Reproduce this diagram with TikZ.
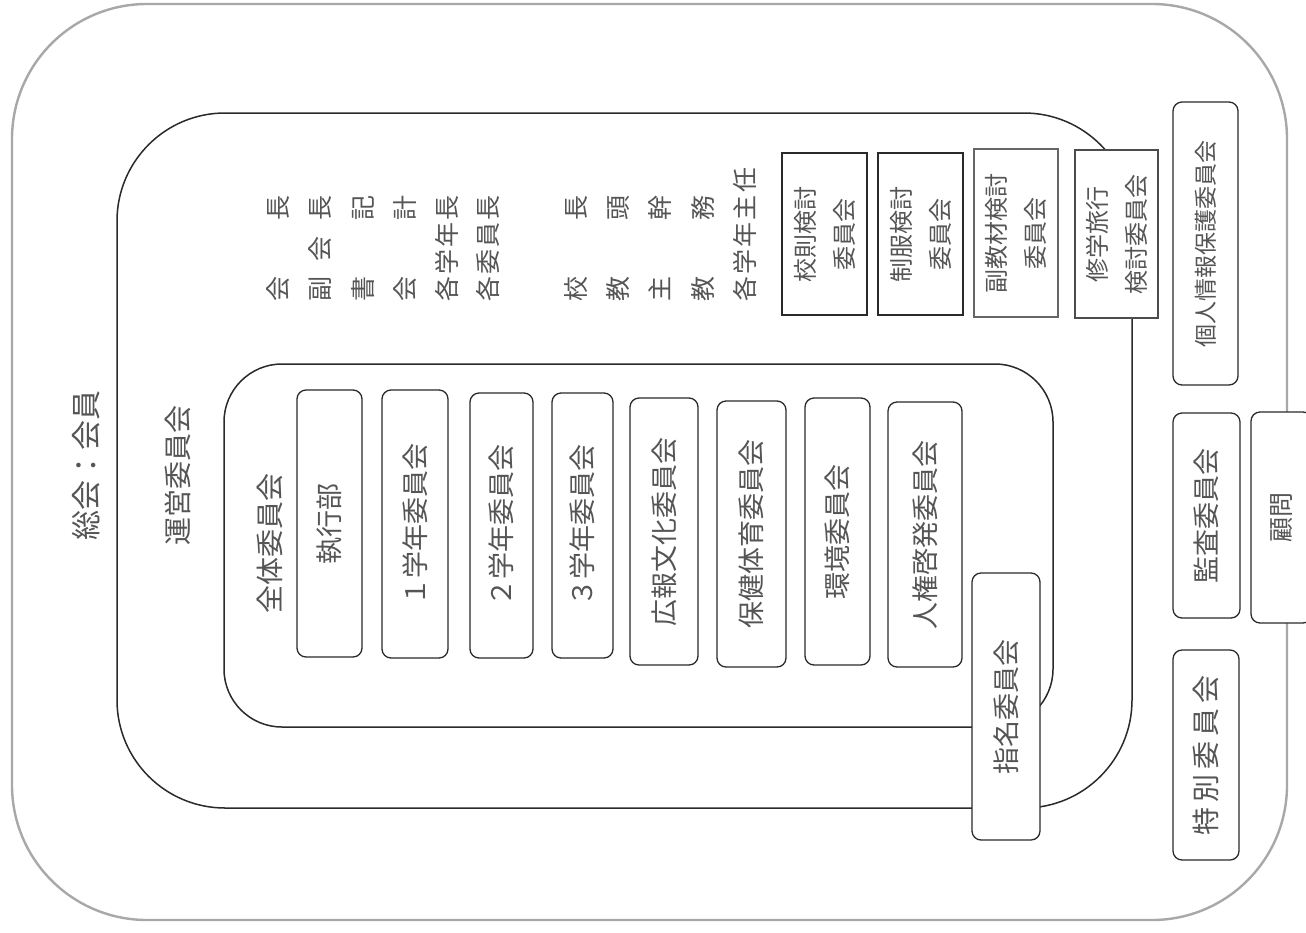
\documentclass[tikz,border=0pt]{standalone}
\usepackage{fontspec}
\setmainfont{Noto Sans CJK JP}
\definecolor{txtc}{HTML}{555555}
\definecolor{linec}{HTML}{2A2A2A}
\definecolor{outerc}{HTML}{A8A8A8}
\begin{document}
\begin{tikzpicture}[x=1pt,y=-1pt,
  sz/.style 2 args={minimum width=#1pt, minimum height=#2pt},
  rbox/.style={draw=linec, fill=white, rounded corners=9pt, line width=1.3pt, rotate=90, inner sep=0pt, text=txtc, font=\fontsize{27}{32}\selectfont},
  sbox/.style={draw=linec, fill=white, line width=1.5pt, rotate=90, inner sep=0pt, text=txtc, align=center, font=\fontsize{24}{39}\selectfont},
  ofc/.style={rotate=90, anchor=west, inner sep=0pt, text=txtc, font=\fontsize{25}{30}\selectfont},
  title/.style={rotate=90, inner sep=0pt, text=txtc, font=\fontsize{28}{34}\selectfont}
]
\useasboundingbox[fill=white] (0,0) rectangle (1306,932);

% containers
\draw[outerc, line width=2.4pt, rounded corners=135pt] (12,4) rectangle (1287,920);
\draw[linec, line width=1.5pt, rounded corners=108pt] (117,113) rectangle (1132,808);
\draw[linec, line width=1.5pt, rounded corners=58pt] (224,364) rectangle (1053,727);

% titles
\node[title, font=\fontsize{30}{36}\selectfont] (sokai) at (86,465) {総会：会員};
\node[title] (unei) at (178,475) {運営委員会};
\node[title] (zentai) at (270,543) {全体委員会};

% officers
\node[ofc] (o1) at (278,302) {\makebox[106pt][s]{会\hfill 長}};
\node[ofc] (o2) at (320,302) {\makebox[106pt][s]{副\hfill 会\hfill 長}};
\node[ofc] (o3) at (363,302) {\makebox[106pt][s]{書\hfill 記}};
\node[ofc] (o4) at (405,302) {\makebox[106pt][s]{会\hfill 計}};
\node[ofc] (o5) at (447,302) {\makebox[106pt][s]{各\hfill 学\hfill 年\hfill 長}};
\node[ofc] (o6) at (488,302) {\makebox[106pt][s]{各\hfill 委\hfill 員\hfill 長}};
\node[ofc] (o7) at (576,302) {\makebox[106pt][s]{校\hfill 長}};
\node[ofc] (o8) at (618,302) {\makebox[106pt][s]{教\hfill 頭}};
\node[ofc] (o9) at (660,302) {\makebox[106pt][s]{主\hfill 幹}};
\node[ofc] (o10) at (703,302) {\makebox[106pt][s]{教\hfill 務}};
\node[ofc] (o11) at (745,302) {\makebox[134pt][s]{各\hfill 学\hfill 年\hfill 主\hfill 任}};

% committees inside 全体委員会
\node[rbox, sz={267}{65}] (shikko) at (329.5,523.5) {執行部};
\node[rbox, sz={268}{66}] (g1) at (415,524) {１学年委員会};
\node[rbox, sz={265}{63}] (g2) at (501.5,525.5) {２学年委員会};
\node[rbox, sz={265}{61}] (g3) at (582.5,525.5) {３学年委員会};
\node[rbox, sz={267}{68}] (koho) at (664,531.5) {広報文化委員会};
\node[rbox, sz={266}{69}] (hoken) at (751.5,534) {保健体育委員会};
\node[rbox, sz={267}{65}] (kankyo) at (837.5,531.5) {環境委員会};
\node[rbox, sz={265}{74}] (jinken) at (925,534.5) {人権啓発委員会};
\node[rbox, sz={267}{68}] (shimei) at (1006,706.5) {指名委員会};

% study committees
\node[sbox, sz={162}{85}] (kosoku) at (824.5,234) {校則検討\\委員会};
\node[sbox, sz={162}{85}] (seifuku) at (920.5,234) {制服検討\\委員会};
\node[sbox, sz={168}{84}, draw=black!60] (fukukyo) at (1016,233) {副教材検討\\委員会};
\node[sbox, sz={168}{83}, draw=black!70] (shugaku) at (1116.5,234) {修学旅行\\検討委員会};

% outside committees
\node[rbox, sz={283}{65}, font=\fontsize{23}{28}\selectfont] (kojin) at (1205.5,243.5) {個人情報保護委員会};
\node[rbox, sz={205}{67}] (kansa) at (1206.5,515.5) {監査委員会};
\node[rbox, sz={211}{61}, font=\fontsize{25}{30}\selectfont] (komon) at (1281.5,517.5) {顧問};
\node[rbox, sz={210}{66}, font=\fontsize{28}{32}\selectfont] (tokubetsu) at (1206,755) {\makebox[160pt][s]{特\hfill 別\hfill 委\hfill 員\hfill 会}};
\end{tikzpicture}
\end{document}
